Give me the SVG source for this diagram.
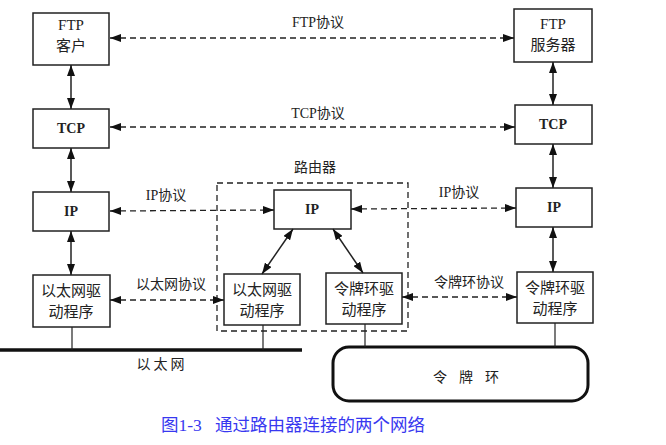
<svg xmlns="http://www.w3.org/2000/svg" width="666" height="445" viewBox="0 0 666 445">
<style>
.box{fill:#fff;stroke:#222;stroke-width:1.5}
.t{font-family:"Liberation Serif","Noto Sans CJK SC",serif;font-size:15px;fill:#222;text-anchor:middle}
.b{font-weight:bold;font-size:14px}
.c{font-family:"Liberation Serif","Noto Sans CJK SC",serif;font-size:14px;fill:#222;text-anchor:middle}
.dash{stroke:#222;stroke-width:1.3;stroke-dasharray:6 4;fill:none}
.sol{stroke:#222;stroke-width:1.5;fill:none}
.thin{stroke:#222;stroke-width:1.2;fill:none}
</style>
<defs>
<marker id="ah" viewBox="0 0 11 8" refX="11" refY="4" markerWidth="11" markerHeight="8" markerUnits="userSpaceOnUse" orient="auto-start-reverse">
<path d="M0,0 L11,4 L0,8 Z" fill="#111"/>
</marker>
</defs>
<rect width="666" height="445" fill="#fff"/>

<g id="router">
<rect x="217" y="183" width="191" height="148" class="dash"/>
<text x="315" y="172" class="c">路由器</text>
</g>

<g id="ftp-client"><rect x="33" y="13" width="76" height="52" class="box"/><text x="71" y="30" class="t">FTP</text><text x="71" y="51" class="t">客户</text></g>
<g id="tcp-left"><rect x="33" y="109" width="76" height="39" class="box"/><text x="71" y="133" class="t b">TCP</text></g>
<g id="ip-left"><rect x="33" y="192" width="76" height="39" class="box"/><text x="71" y="216" class="t b">IP</text></g>
<g id="eth-left"><rect x="33" y="275" width="77" height="52" class="box"/><text x="71" y="296" class="t">以太网驱</text><text x="71" y="317" class="t">动程序</text></g>

<g id="ftp-server"><rect x="514" y="9" width="78" height="53" class="box"/><text x="553" y="29" class="t">FTP</text><text x="553" y="50" class="t">服务器</text></g>
<g id="tcp-right"><rect x="515" y="105" width="77" height="39" class="box"/><text x="553" y="129" class="t b">TCP</text></g>
<g id="ip-right"><rect x="516" y="188" width="76" height="39" class="box"/><text x="554" y="212" class="t b">IP</text></g>
<g id="tr-right"><rect x="517" y="272" width="76" height="51" class="box"/><text x="555" y="293" class="t">令牌环驱</text><text x="555" y="314" class="t">动程序</text></g>

<g id="ip-router"><rect x="274" y="190" width="77" height="39" class="box"/><text x="312" y="214" class="t b">IP</text></g>
<g id="eth-router"><rect x="224" y="274" width="76" height="51" class="box"/><text x="262" y="295" class="t">以太网驱</text><text x="262" y="316" class="t">动程序</text></g>
<g id="tr-router"><rect x="326" y="273" width="76" height="51" class="box"/><text x="364" y="294" class="t">令牌环驱</text><text x="364" y="315" class="t">动程序</text></g>

<g id="ethernet">
<line x1="0" y1="350" x2="302" y2="350" stroke="#111" stroke-width="3.5"/>
<text x="162" y="369" class="c" letter-spacing="3">以太网</text>
</g>
<g id="token-ring">
<rect x="333" y="347" width="255" height="54" rx="16" ry="16" fill="#fff" stroke="#111" stroke-width="3"/>
<text x="472" y="382" class="c" letter-spacing="12">令牌环</text>
</g>

<g id="connectors">
<line x1="110" y1="38" x2="514" y2="38" class="dash" marker-start="url(#ah)" marker-end="url(#ah)"/>
<line x1="110" y1="127" x2="515" y2="127" class="dash" marker-start="url(#ah)" marker-end="url(#ah)"/>
<line x1="110" y1="211" x2="274" y2="210" class="dash" marker-start="url(#ah)" marker-end="url(#ah)"/>
<line x1="351" y1="209" x2="516" y2="208" class="dash" marker-start="url(#ah)" marker-end="url(#ah)"/>
<line x1="110" y1="300" x2="224" y2="300" class="dash" marker-start="url(#ah)" marker-end="url(#ah)"/>
<line x1="402" y1="297" x2="517" y2="297" class="dash" marker-start="url(#ah)" marker-end="url(#ah)"/>

<line x1="71" y1="65" x2="71" y2="109" class="sol" marker-start="url(#ah)" marker-end="url(#ah)"/>
<line x1="71" y1="148" x2="71" y2="192" class="sol" marker-start="url(#ah)" marker-end="url(#ah)"/>
<line x1="71" y1="231" x2="71" y2="275" class="sol" marker-start="url(#ah)" marker-end="url(#ah)"/>
<line x1="553" y1="62" x2="553" y2="105" class="sol" marker-start="url(#ah)" marker-end="url(#ah)"/>
<line x1="553" y1="144" x2="553" y2="188" class="sol" marker-start="url(#ah)" marker-end="url(#ah)"/>
<line x1="553" y1="227" x2="553" y2="272" class="sol" marker-start="url(#ah)" marker-end="url(#ah)"/>
<line x1="293" y1="229" x2="262" y2="274" class="sol" marker-start="url(#ah)" marker-end="url(#ah)"/>
<line x1="333" y1="229" x2="363" y2="273" class="sol" marker-start="url(#ah)" marker-end="url(#ah)"/>

<line x1="72" y1="327" x2="72" y2="350" class="thin"/>
<line x1="263" y1="325" x2="263" y2="350" class="thin"/>
<line x1="365" y1="324" x2="365" y2="347" class="thin"/>
<line x1="555" y1="323" x2="555" y2="347" class="thin"/>
</g>

<g id="labels">
<text x="318" y="27" class="c">FTP协议</text>
<text x="318" y="118" class="c">TCP协议</text>
<text x="166" y="200" class="c">IP协议</text>
<text x="459" y="197" class="c">IP协议</text>
<text x="171" y="289" class="c">以太网协议</text>
<text x="469" y="287" class="c">令牌环协议</text>
</g>

<text x="161" y="431" font-family="Liberation Serif,'Noto Sans CJK SC',serif" font-size="17.5" fill="#3838f0" xml:space="preserve">图1-3   通过路由器连接的两个网络</text>
</svg>
